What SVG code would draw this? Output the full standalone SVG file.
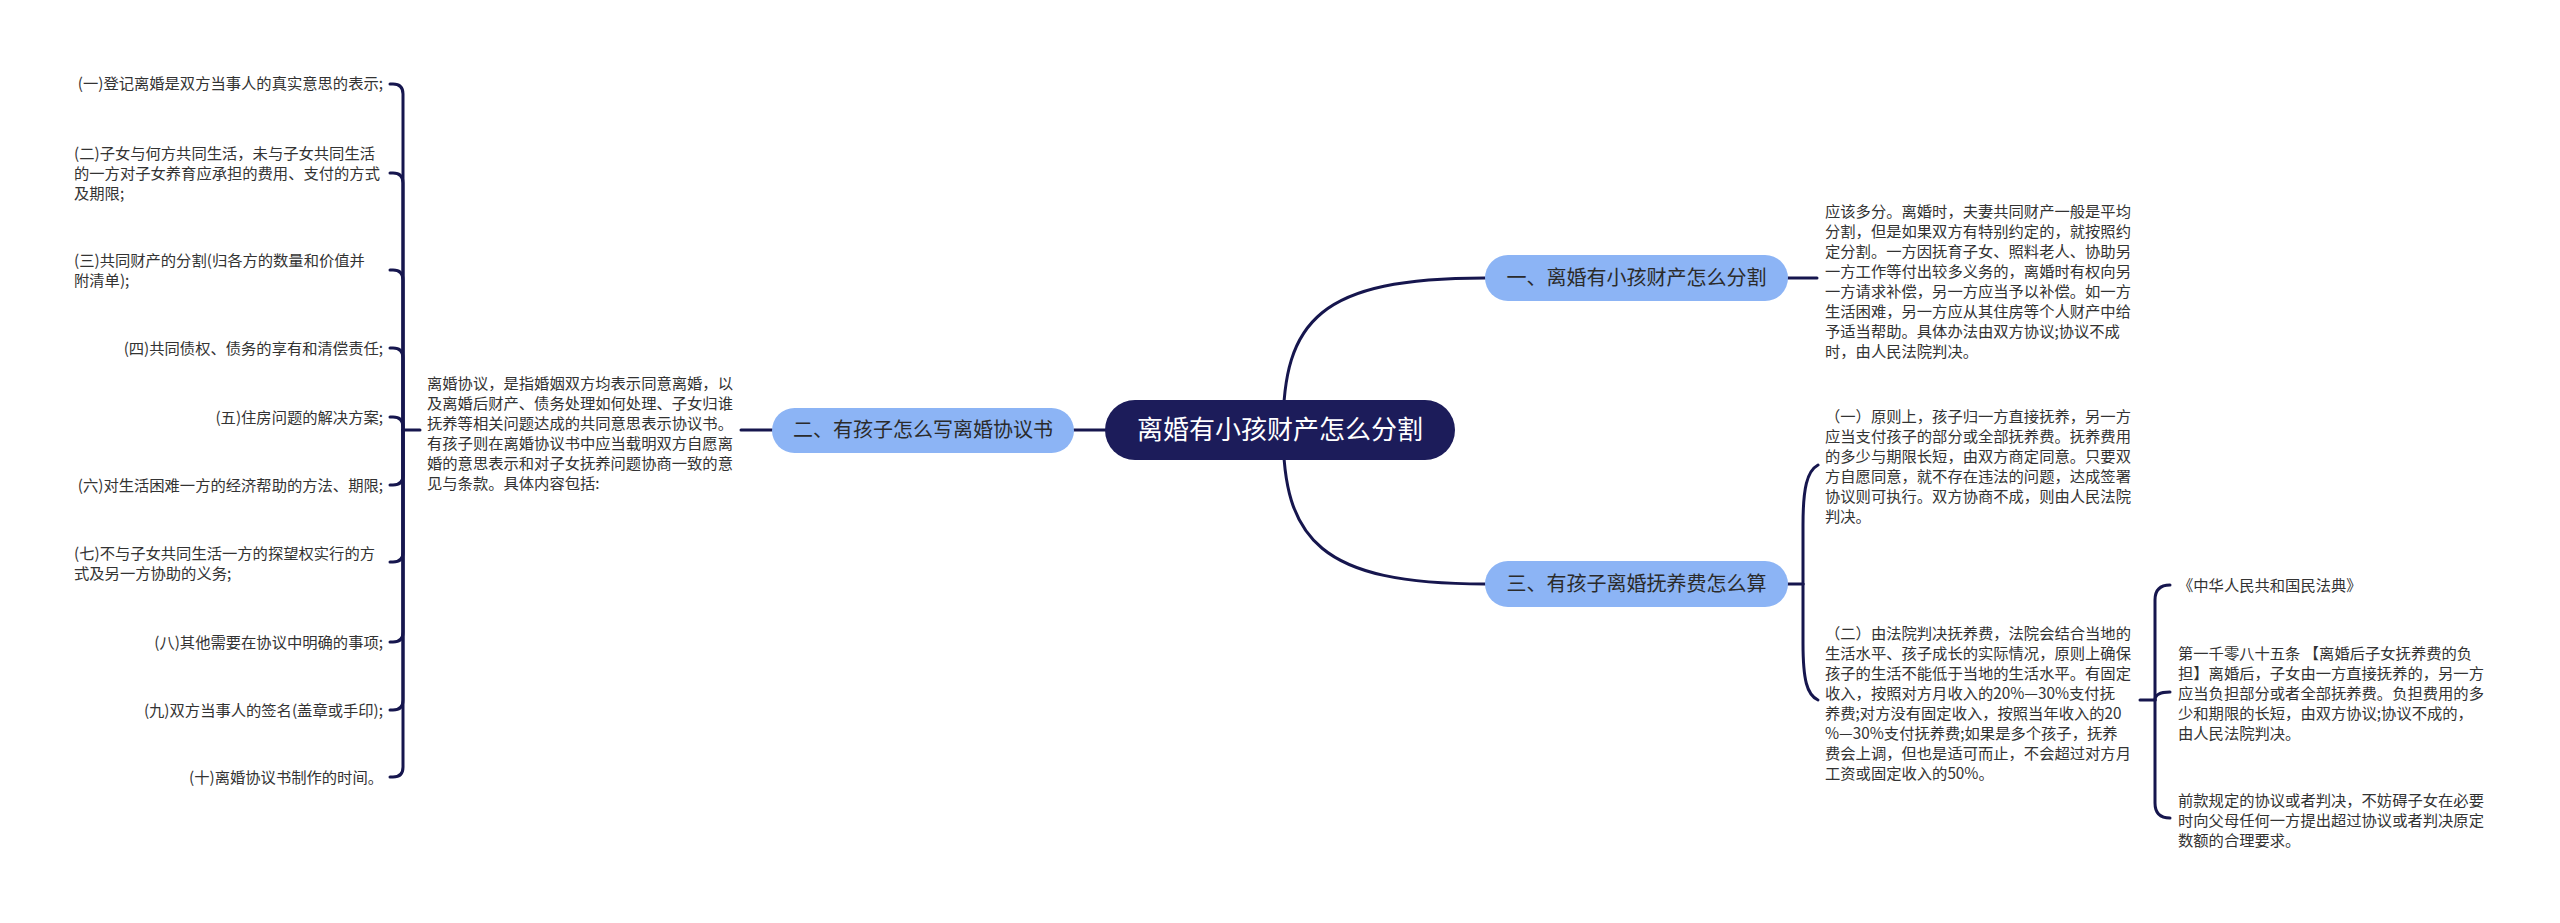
<svg xmlns="http://www.w3.org/2000/svg" width="2560" height="923" viewBox="0 0 2560 923">
<style>
.bg{fill:#ffffff}
.ln{fill:none;stroke:#16164e;stroke-width:3;stroke-linecap:round}
.root{fill:#1c1c5a}
.rt{font-family:"Noto Sans CJK SC","Noto Sans",sans-serif;font-size:26px;fill:#ffffff;text-anchor:middle}
.pill{fill:#8cb4f5}
.pt{font-family:"Noto Sans CJK SC","Noto Sans",sans-serif;font-size:20px;fill:#2b2b2b;text-anchor:middle}
.tx{font-family:"Noto Sans CJK SC","Noto Sans",sans-serif;font-size:15.3px;fill:#333333}
.te{text-anchor:end}
</style>
<rect class="bg" x="0" y="0" width="2560" height="923"/>
<g id="connectors">
  <path class="ln" d="M1283,430 C1283,320 1320,278 1485,278"/>
  <path class="ln" d="M1283,430 C1283,540 1320,584 1485,584"/>
  <path class="ln" d="M1105,430 L1074,430"/>
  <path class="ln" d="M772,430 L741,430"/>
  <path class="ln" d="M420,430 L403,430"/>
  <path class="ln" d="M403,430 L403,94 Q403,84 393,84 L390,84"/>
  <path class="ln" d="M403,430 L403,183 Q403,173 393,173 L390,173"/>
  <path class="ln" d="M403,430 L403,280 Q403,270 393,270 L390,270"/>
  <path class="ln" d="M403,430 L403,358 Q403,348 393,348 L390,348"/>
  <path class="ln" d="M403,430 L403,427 Q403,417 393,417 L390,417"/>
  <path class="ln" d="M403,430 L403,475 Q403,485 393,485 L390,485"/>
  <path class="ln" d="M403,430 L403,552 Q403,562 393,562 L390,562"/>
  <path class="ln" d="M403,430 L403,632 Q403,642 393,642 L390,642"/>
  <path class="ln" d="M403,430 L403,700 Q403,710 393,710 L390,710"/>
  <path class="ln" d="M403,430 L403,767 Q403,777 393,777 L390,777"/>
  <path class="ln" d="M1788,278 L1817,278"/>
  <path class="ln" d="M1788,584 L1803,584"/>
  <path class="ln" d="M1803,584 L1803,525 C1803,488 1807,471 1818,465"/>
  <path class="ln" d="M1803,584 L1803,643 C1803,680 1807,695 1818,700"/>
  <path class="ln" d="M2140,700 L2155,700"/>
  <path class="ln" d="M2155,700 L2155,600 Q2155,585 2170,585"/>
  <path class="ln" d="M2155,700 L2155,700 Q2155,692 2170,692"/>
  <path class="ln" d="M2155,700 L2155,803 Q2155,818 2170,818"/>
</g>

<g id="root">
  <rect class="root" x="1105" y="400" width="350" height="60" rx="30"/>
  <text class="rt" x="1280" y="439">离婚有小孩财产怎么分割</text>
</g>

<g id="branch1">
  <rect class="pill" x="1485" y="255" width="303" height="46" rx="23"/>
  <text class="pt" x="1636.5" y="285">一、离婚有小孩财产怎么分割</text>
</g>
<g id="branch1-text">
  <text class="tx" x="1825" y="217">应该多分。离婚时，夫妻共同财产一般是平均</text>
  <text class="tx" x="1825" y="237">分割，但是如果双方有特别约定的，就按照约</text>
  <text class="tx" x="1825" y="257">定分割。一方因抚育子女、照料老人、协助另</text>
  <text class="tx" x="1825" y="277">一方工作等付出较多义务的，离婚时有权向另</text>
  <text class="tx" x="1825" y="297">一方请求补偿，另一方应当予以补偿。如一方</text>
  <text class="tx" x="1825" y="317">生活困难，另一方应从其住房等个人财产中给</text>
  <text class="tx" x="1825" y="337">予适当帮助。具体办法由双方协议;协议不成</text>
  <text class="tx" x="1825" y="357">时，由人民法院判决。</text>
</g>

<g id="branch2">
  <rect class="pill" x="772" y="408" width="302" height="45" rx="22.5"/>
  <text class="pt" x="923" y="437">二、有孩子怎么写离婚协议书</text>
</g>
<g id="branch2-text">
  <text class="tx" x="427" y="389">离婚协议，是指婚姻双方均表示同意离婚，以</text>
  <text class="tx" x="427" y="409">及离婚后财产、债务处理如何处理、子女归谁</text>
  <text class="tx" x="427" y="429">抚养等相关问题达成的共同意思表示协议书。</text>
  <text class="tx" x="427" y="449">有孩子则在离婚协议书中应当载明双方自愿离</text>
  <text class="tx" x="427" y="469">婚的意思表示和对子女抚养问题协商一致的意</text>
  <text class="tx" x="427" y="489">见与条款。具体内容包括:</text>
</g>
<g id="item1"><text class="tx te" x="383" y="89">(一)登记离婚是双方当事人的真实意思的表示;</text></g>
<g id="item2">
  <text class="tx" x="74" y="159">(二)子女与何方共同生活，未与子女共同生活</text>
  <text class="tx" x="74" y="179">的一方对子女养育应承担的费用、支付的方式</text>
  <text class="tx" x="74" y="199">及期限;</text>
</g>
<g id="item3">
  <text class="tx" x="74" y="266">(三)共同财产的分割(归各方的数量和价值并</text>
  <text class="tx" x="74" y="286">附清单);</text>
</g>
<g id="item4"><text class="tx te" x="383" y="354">(四)共同债权、债务的享有和清偿责任;</text></g>
<g id="item5"><text class="tx te" x="383" y="423">(五)住房问题的解决方案;</text></g>
<g id="item6"><text class="tx te" x="383" y="491">(六)对生活困难一方的经济帮助的方法、期限;</text></g>
<g id="item7">
  <text class="tx" x="74" y="559">(七)不与子女共同生活一方的探望权实行的方</text>
  <text class="tx" x="74" y="579">式及另一方协助的义务;</text>
</g>
<g id="item8"><text class="tx te" x="383" y="648">(八)其他需要在协议中明确的事项;</text></g>
<g id="item9"><text class="tx te" x="383" y="716">(九)双方当事人的签名(盖章或手印);</text></g>
<g id="item10"><text class="tx te" x="383" y="783">(十)离婚协议书制作的时间。</text></g>

<g id="branch3">
  <rect class="pill" x="1485" y="561" width="303" height="46" rx="23"/>
  <text class="pt" x="1636.5" y="591">三、有孩子离婚抚养费怎么算</text>
</g>
<g id="branch3-text1">
  <text class="tx" x="1825" y="422">（一）原则上，孩子归一方直接抚养，另一方</text>
  <text class="tx" x="1825" y="442">应当支付孩子的部分或全部抚养费。抚养费用</text>
  <text class="tx" x="1825" y="462">的多少与期限长短，由双方商定同意。只要双</text>
  <text class="tx" x="1825" y="482">方自愿同意，就不存在违法的问题，达成签署</text>
  <text class="tx" x="1825" y="502">协议则可执行。双方协商不成，则由人民法院</text>
  <text class="tx" x="1825" y="522">判决。</text>
</g>
<g id="branch3-text2">
  <text class="tx" x="1825" y="639">（二）由法院判决抚养费，法院会结合当地的</text>
  <text class="tx" x="1825" y="659">生活水平、孩子成长的实际情况，原则上确保</text>
  <text class="tx" x="1825" y="679">孩子的生活不能低于当地的生活水平。有固定</text>
  <text class="tx" x="1825" y="699">收入，按照对方月收入的20%—30%支付抚</text>
  <text class="tx" x="1825" y="719">养费;对方没有固定收入，按照当年收入的20</text>
  <text class="tx" x="1825" y="739">%—30%支付抚养费;如果是多个孩子，抚养</text>
  <text class="tx" x="1825" y="759">费会上调，但也是适可而止，不会超过对方月</text>
  <text class="tx" x="1825" y="779">工资或固定收入的50%。</text>
</g>
<g id="law1"><text class="tx" x="2178" y="591">《中华人民共和国民法典》</text></g>
<g id="law2">
  <text class="tx" x="2178" y="659">第一千零八十五条 【离婚后子女抚养费的负</text>
  <text class="tx" x="2178" y="679">担】离婚后，子女由一方直接抚养的，另一方</text>
  <text class="tx" x="2178" y="699">应当负担部分或者全部抚养费。负担费用的多</text>
  <text class="tx" x="2178" y="719">少和期限的长短，由双方协议;协议不成的，</text>
  <text class="tx" x="2178" y="739">由人民法院判决。</text>
</g>
<g id="law3">
  <text class="tx" x="2178" y="806">前款规定的协议或者判决，不妨碍子女在必要</text>
  <text class="tx" x="2178" y="826">时向父母任何一方提出超过协议或者判决原定</text>
  <text class="tx" x="2178" y="846">数额的合理要求。</text>
</g>
</svg>
